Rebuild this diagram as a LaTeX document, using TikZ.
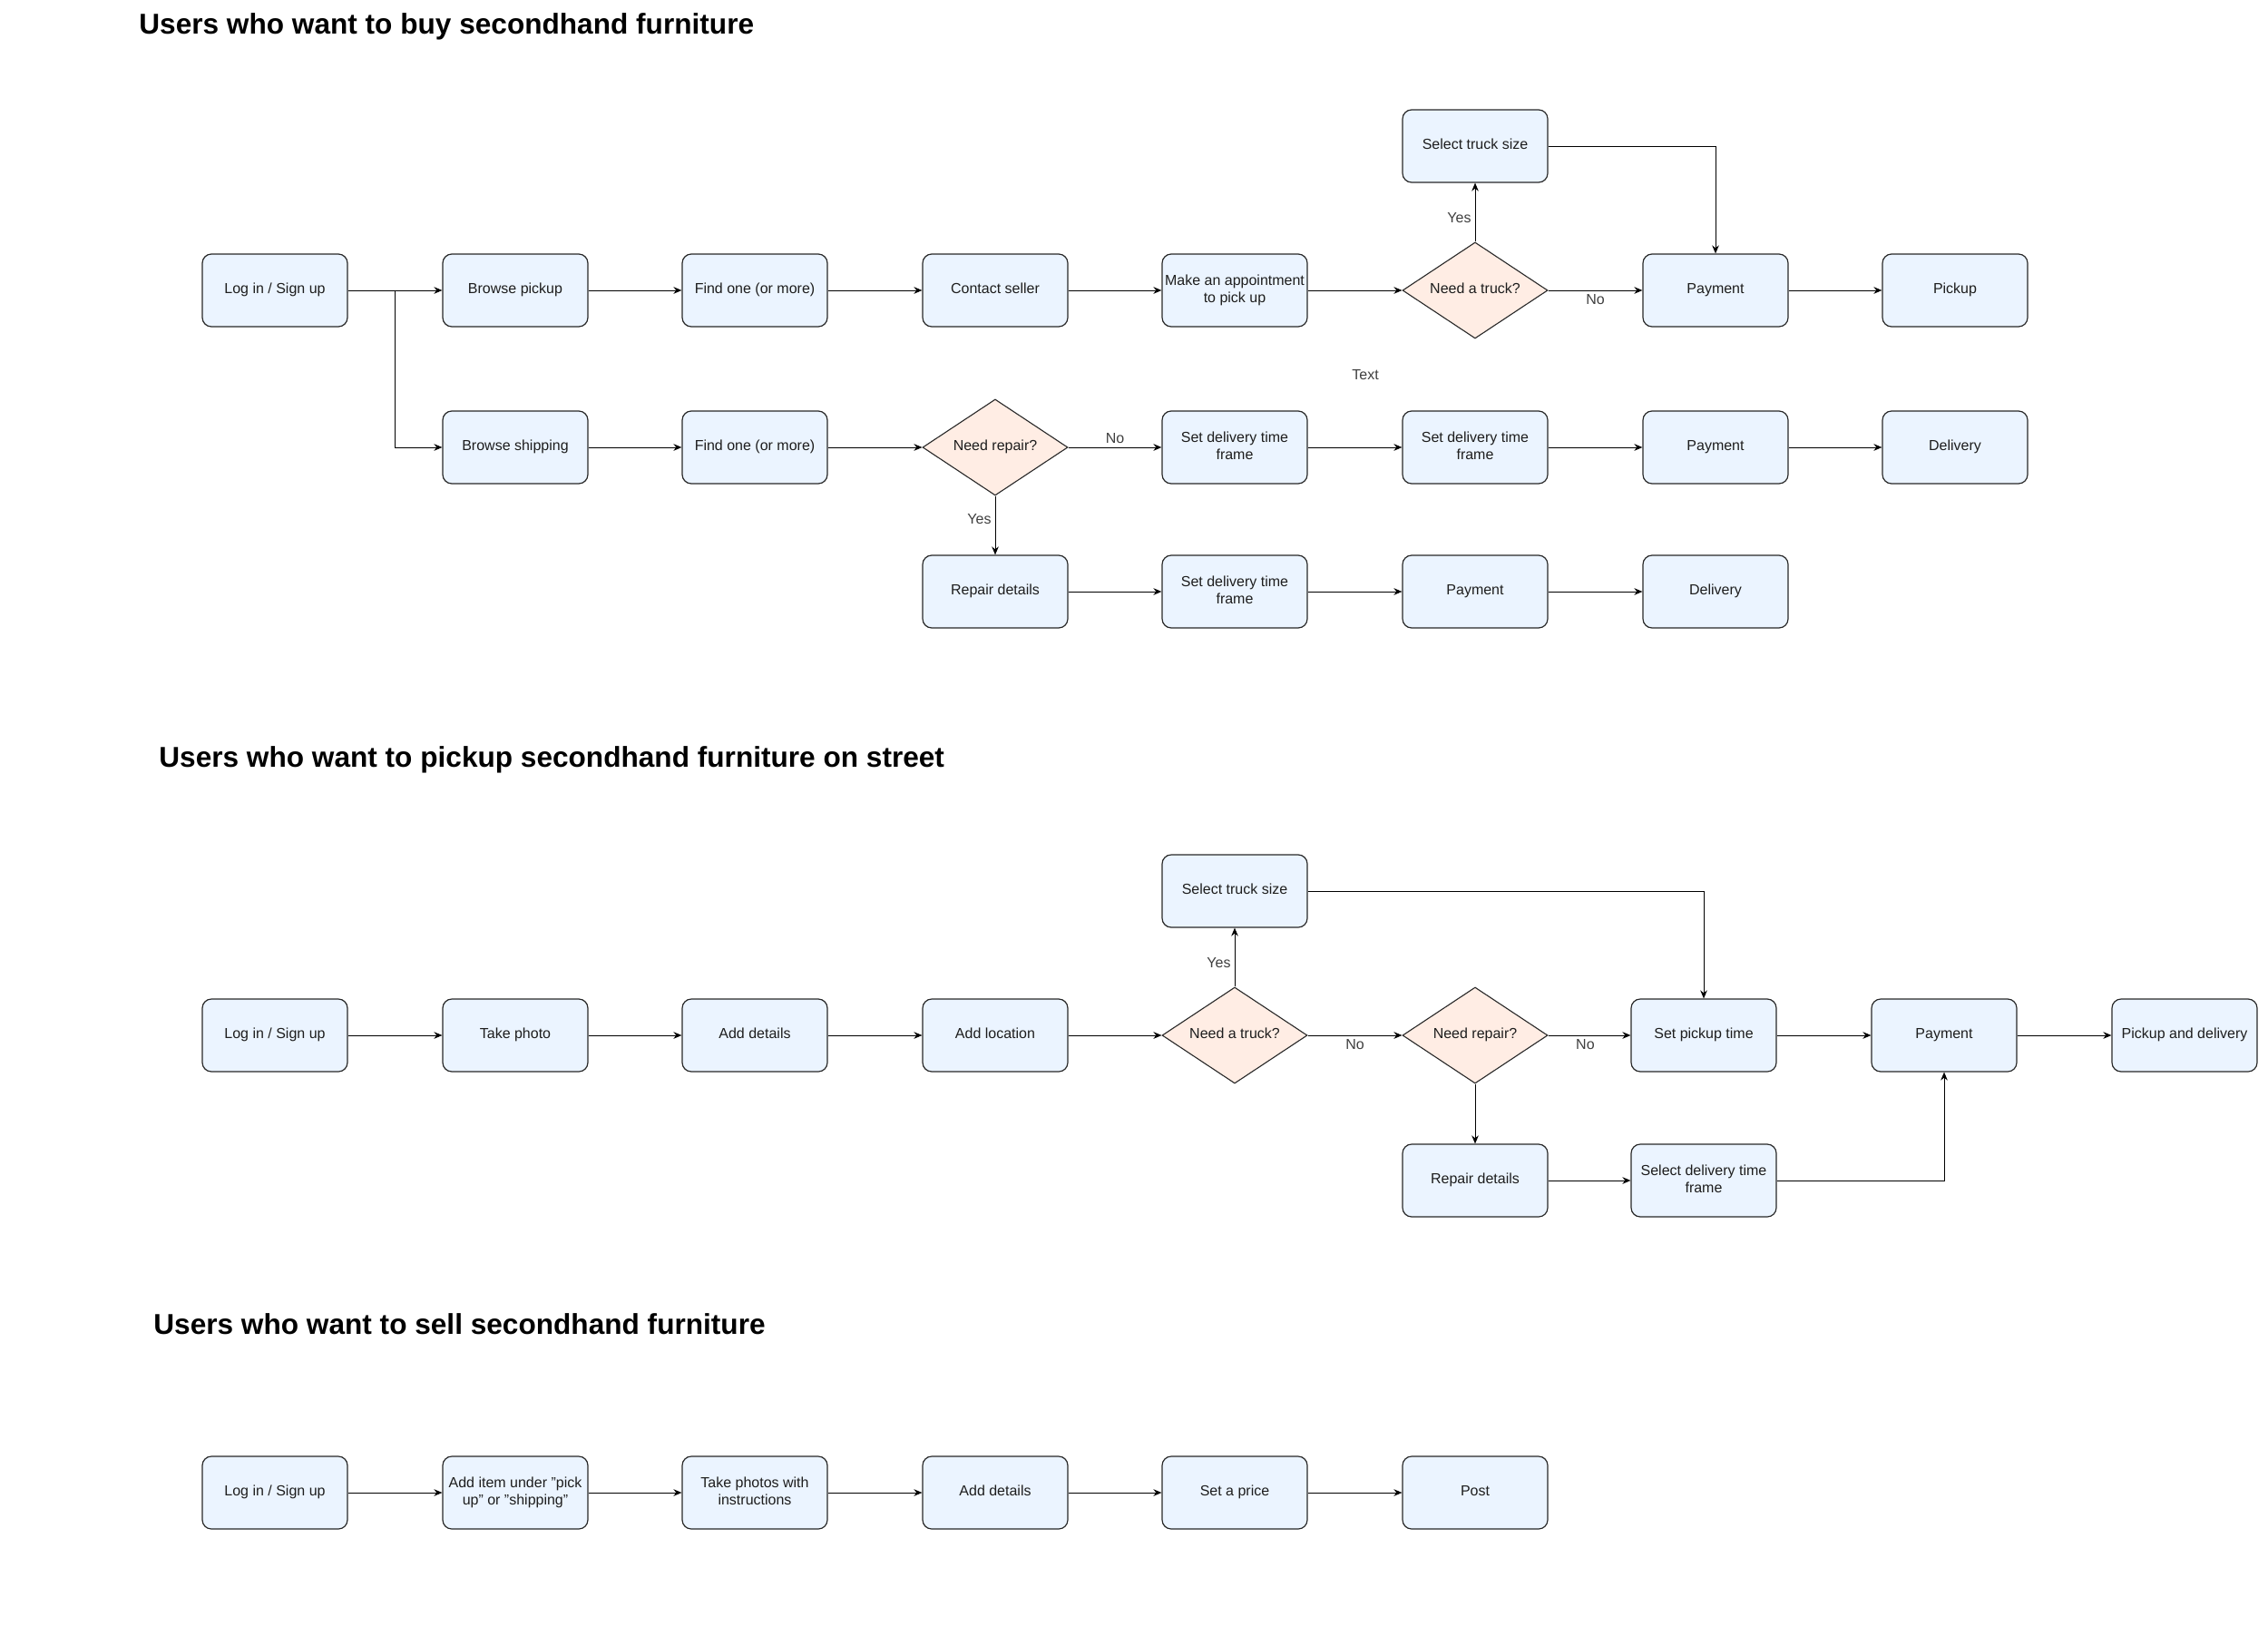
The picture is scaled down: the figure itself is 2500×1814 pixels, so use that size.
\documentclass[tikz,border=0pt]{standalone}
\usepackage{fontspec}
\setmainfont{Liberation Sans}
\usepackage{xcolor}
\usepackage{tikz}
\usetikzlibrary{
  shapes.geometric,
  arrows.meta,
  positioning
}
\definecolor{BoxBlue}{RGB}{235, 244, 255}
\definecolor{DecisionPeach}{RGB}{255, 237, 228}
\definecolor{EdgeGray}{RGB}{40, 40, 40}
\definecolor{InkGray}{RGB}{30, 30, 30}
\newcommand{\boxstrut}{\rule[-1.9pt]{0pt}{7.6pt}}
\tikzset{
    stepbox/.style={rectangle, draw=EdgeGray, line width=0.6pt, fill=BoxBlue, rounded corners=5pt,
        minimum width=80pt, minimum height=40pt, inner sep=1.5pt, align=center,
        font=\fontsize{8}{9.5}\selectfont, text=InkGray,
        execute at begin node=\boxstrut, execute at end node=\boxstrut},
    decision/.style={diamond, draw=EdgeGray, line width=0.55pt, fill=DecisionPeach, shape aspect=1.5,
        minimum width=80pt, minimum height=53pt, inner sep=1pt, align=center,
        font=\fontsize{8}{9.5}\selectfont, text=InkGray,
        execute at begin node=\boxstrut},
    arr/.style={-{Stealth[length=4.5pt, width=3.8pt]}, draw=black, line width=0.5pt},
    lbl/.style={font=\fontsize{8}{9.5}\selectfont, text=InkGray!85, inner sep=2pt},
    heading/.style={anchor=west, inner sep=0pt, font=\fontsize{15.8}{19}\selectfont\bfseries}
}

\begin{document}
\begin{tikzpicture}[x=0.5pt, y=-0.5pt]
\useasboundingbox[fill=white] (0,0) rectangle (2500,1814);

\node[heading] (title1) at (153,29) {Users who want to buy secondhand furniture};
\node[heading] (title2) at (175,837) {Users who want to pickup secondhand furniture on street};
\node[heading] (title3) at (169,1459) {Users who want to sell secondhand furniture};

\node[stepbox] (login1) at (303,320) {Log in / Sign up};
\node[stepbox] (bpick) at (568,320) {Browse pickup};
\node[stepbox] (find1) at (832,320) {Find one (or more)};
\node[stepbox] (contact) at (1097,320) {Contact seller};
\node[stepbox] (appoint) at (1361,320) {Make an appointment\\to pick up};
\node[decision] (truck1) at (1626,320) {Need a truck?};
\node[stepbox] (seltruck1) at (1626,161) {Select truck size};
\node[stepbox] (pay1) at (1891,320) {Payment};
\node[stepbox] (pickup1) at (2155,320) {Pickup};

\node[lbl] (stray) at (1505,413) {Text};

\node[stepbox] (bship) at (568,493) {Browse shipping};
\node[stepbox] (find2) at (832,493) {Find one (or more)};
\node[decision] (repair1) at (1097,493) {Need repair?};
\node[stepbox] (dtime1) at (1361,493) {Set delivery time\\frame};
\node[stepbox] (dtime2) at (1626,493) {Set delivery time\\frame};
\node[stepbox] (pay2) at (1891,493) {Payment};
\node[stepbox] (deliv1) at (2155,493) {Delivery};

\node[stepbox] (repdet1) at (1097,652) {Repair details};
\node[stepbox] (dtime3) at (1361,652) {Set delivery time\\frame};
\node[stepbox] (pay3) at (1626,652) {Payment};
\node[stepbox] (deliv2) at (1891,652) {Delivery};

\draw[arr] (login1) -- (bpick);
\draw[arr] (login1.east) -- ++(52,0) |- (bship.west);
\draw[arr] (bpick) -- (find1);
\draw[arr] (find1) -- (contact);
\draw[arr] (contact) -- (appoint);
\draw[arr] (appoint) -- (truck1);
\draw[arr] (truck1) -- node[lbl, pos=0.4, left] {Yes} (seltruck1);
\draw[arr] (seltruck1.east) -| (pay1.north);
\draw[arr] (truck1) -- node[lbl, midway, below] {No} (pay1);
\draw[arr] (pay1) -- (pickup1);
\draw[arr] (bship) -- (find2);
\draw[arr] (find2) -- (repair1);
\draw[arr] (repair1) -- node[lbl, midway, above] {No} (dtime1);
\draw[arr] (dtime1) -- (dtime2);
\draw[arr] (dtime2) -- (pay2);
\draw[arr] (pay2) -- (deliv1);
\draw[arr] (repair1) -- node[lbl, pos=0.4, left] {Yes} (repdet1);
\draw[arr] (repdet1) -- (dtime3);
\draw[arr] (dtime3) -- (pay3);
\draw[arr] (pay3) -- (deliv2);

\node[stepbox] (login2) at (303,1141) {Log in / Sign up};
\node[stepbox] (photo) at (568,1141) {Take photo};
\node[stepbox] (details2) at (832,1141) {Add details};
\node[stepbox] (location) at (1097,1141) {Add location};
\node[decision] (truck2) at (1361,1141) {Need a truck?};
\node[stepbox] (seltruck2) at (1361,982) {Select truck size};
\node[decision] (repair2) at (1626,1141) {Need repair?};
\node[stepbox] (setpick) at (1878,1141) {Set pickup time};
\node[stepbox] (pay4) at (2143,1141) {Payment};
\node[stepbox] (pickdeliv) at (2408,1141) {Pickup and delivery};
\node[stepbox] (repdet2) at (1626,1301) {Repair details};
\node[stepbox] (seldtime) at (1878,1301) {Select delivery time\\frame};

\draw[arr] (login2) -- (photo);
\draw[arr] (photo) -- (details2);
\draw[arr] (details2) -- (location);
\draw[arr] (location) -- (truck2);
\draw[arr] (truck2) -- node[lbl, pos=0.4, left] {Yes} (seltruck2);
\draw[arr] (seltruck2.east) -| (setpick.north);
\draw[arr] (truck2) -- node[lbl, midway, below] {No} (repair2);
\draw[arr] (repair2) -- node[lbl, pos=0.45, below] {No} (setpick);
\draw[arr] (repair2) -- (repdet2);
\draw[arr] (repdet2) -- (seldtime);
\draw[arr] (seldtime.east) -| (pay4.south);
\draw[arr] (setpick) -- (pay4);
\draw[arr] (pay4) -- (pickdeliv);

\node[stepbox] (login3) at (303,1645) {Log in / Sign up};
\node[stepbox] (additem) at (568,1645) {Add item under "pick\\up" or "shipping"};
\node[stepbox] (photos) at (832,1645) {Take photos with\\instructions};
\node[stepbox] (details3) at (1097,1645) {Add details};
\node[stepbox] (price) at (1361,1645) {Set a price};
\node[stepbox] (post) at (1626,1645) {Post};

\draw[arr] (login3) -- (additem);
\draw[arr] (additem) -- (photos);
\draw[arr] (photos) -- (details3);
\draw[arr] (details3) -- (price);
\draw[arr] (price) -- (post);
\end{tikzpicture}
\end{document}
